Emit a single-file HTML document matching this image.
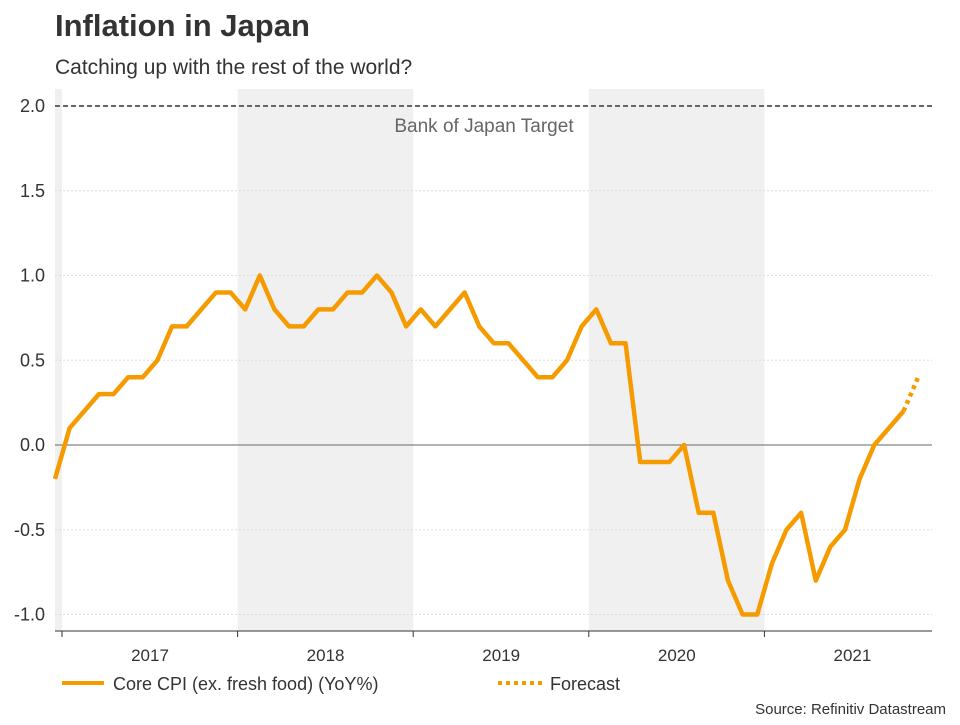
<!DOCTYPE html>
<html><head><meta charset="utf-8">
<style>
body{margin:0;background:#fff;font-family:"Liberation Sans",sans-serif;}
svg text{font-family:"Liberation Sans",sans-serif;}
</style></head>
<body>
<svg width="960" height="720" id="chart">
<text x="55" y="36" font-size="31" font-weight="bold" fill="#333">Inflation in Japan</text>
<text x="55" y="74" font-size="21" fill="#333">Catching up with the rest of the world?</text>
<g id="bands"></g>
<g id="grid"></g>
<line x1="55" y1="106" x2="932" y2="106" stroke="#666" stroke-width="2" stroke-dasharray="5,3"/>
<text x="484" y="132" font-size="19" fill="#666" text-anchor="middle">Bank of Japan Target</text>
<g id="series"></g>
<line x1="55" y1="631" x2="932" y2="631" stroke="#333" stroke-width="1"/>
<g id="xt"></g>
<line x1="62" y1="683" x2="104" y2="683" stroke="#f59b00" stroke-width="4"/>
<text x="113" y="690" font-size="18" fill="#333">Core CPI (ex. fresh food) (YoY%)</text>
<line x1="498" y1="683" x2="542" y2="683" stroke="#f59b00" stroke-width="4" stroke-dasharray="4,4"/>
<text x="550" y="690" font-size="18" fill="#333">Forecast</text>
<text x="946" y="714" font-size="15" fill="#333" text-anchor="end">Source: Refinitiv Datastream</text>
</svg>
<script>
const values=[-0.2,0.1,0.2,0.3,0.3,0.4,0.4,0.5,0.7,0.7,0.8,0.9,0.9,0.8,1.0,0.8,0.7,0.7,0.8,0.8,0.9,0.9,1.0,0.9,0.7,0.8,0.7,0.8,0.9,0.7,0.6,0.6,0.5,0.4,0.4,0.5,0.7,0.8,0.6,0.6,-0.1,-0.1,-0.1,0.0,-0.4,-0.4,-0.8,-1.0,-1.0,-0.7,-0.5,-0.4,-0.8,-0.6,-0.5,-0.2,0.0,0.1,0.2];
const forecast=[0.2,0.4];
const yTicks=[2.0,1.5,1.0,0.5,0.0,-0.5,-1.0];
const years=["2017","2018","2019","2020","2021"];
const NS="http://www.w3.org/2000/svg";
const X=i=>55+i*14.63;
const Y=v=>445-v*169.5;
const yearX=k=>62+k*175.6;
function mk(t,a,p){const e=document.createElementNS(NS,t);for(const k in a)e.setAttribute(k,a[k]);document.getElementById(p).appendChild(e);return e;}
let b=mk('rect',{x:55,y:89,width:7,height:542,fill:'#f0f0f0'},'bands');


[1,3].forEach(k=>{const r=mk('rect',{x:yearX(k),y:89,width:175.6,height:542,fill:'#f0f0f0'},'bands');

});
yTicks.forEach(v=>{
 if(v!==2.0){const l=mk('line',{x1:55,x2:932,y1:Y(v),y2:Y(v),stroke:v===0?'#666':'#ddd','stroke-width':1,'stroke-dasharray':v===0?'':'2,2'},'grid');
 
 }
 const t=mk('text',{x:45,y:Y(v)+6,'font-size':18,fill:'#333','text-anchor':'end'},'grid');
 t.textContent=v.toFixed(1);
 
 
});
years.forEach((y,k)=>{
 const t=mk('text',{x:yearX(k)+88,y:661,'font-size':17,fill:'#333','text-anchor':'middle'},'xt');
 t.textContent=y;
 
 
});
for(let k=0;k<=4;k++){const l=mk('line',{x1:yearX(k),x2:yearX(k),y1:631,y2:637,stroke:'#333'},'xt');

}
const line=mk('polyline',{points:values.map((v,i)=>X(i)+','+Y(v)).join(' '),fill:'none',stroke:'#f59b00','stroke-width':4.5,'stroke-linejoin':'round'},'series');


const f0=values.length-1;
const fl=mk('polyline',{points:forecast.map((v,i)=>X(f0+i)+','+Y(v)).join(' '),fill:'none',stroke:'#f59b00','stroke-width':4.5,'stroke-dasharray':'4,4'},'series');


</script>
</body></html>
